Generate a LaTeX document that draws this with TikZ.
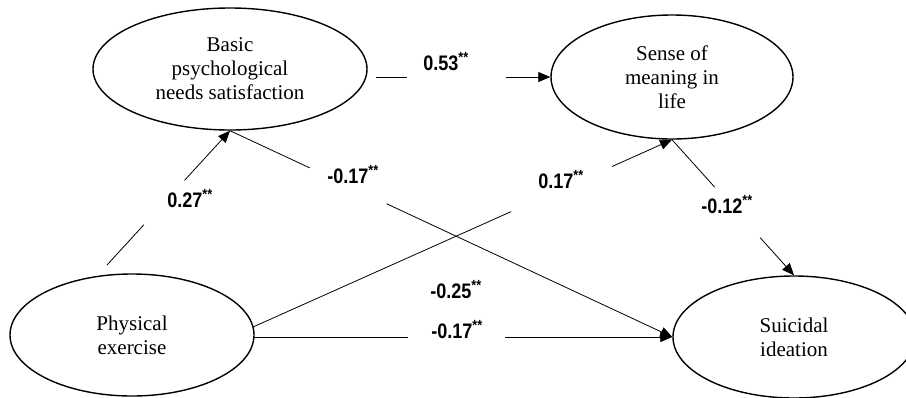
\documentclass[tikz,border=0pt]{standalone}
\usepackage{fontspec}
\setmainfont{Liberation Serif}
\newfontfamily\lblfont[FakeStretch=0.86]{Liberation Sans}
\usetikzlibrary{shapes.geometric,arrows.meta,calc}
\begin{document}
\begin{tikzpicture}[x=1pt,y=-1pt,
  latent/.style={ellipse, draw, line width=1.4pt, inner sep=0pt, align=center,
    font=\fontsize{21}{24}\selectfont},
  conn/.style={line width=0.8pt},
  arr/.style={conn, -{Triangle[length=12pt,width=10pt]}},
  coef/.style={font=\lblfont\bfseries\fontsize{21}{23}\selectfont, inner sep=0pt, anchor=base}]
\useasboundingbox (0,0) rectangle (906,397);
% latent variables
\node[latent, minimum width=274pt, minimum height=122pt] (B) at (230,69) {Basic\\psychological\\needs satisfaction};
\node[latent, minimum width=242pt, minimum height=124pt] (S) at (672,77) {Sense of\\meaning in\\life};
\node[latent, minimum width=244pt, minimum height=122pt] (P) at (132,335) {Physical\\exercise};
\node[latent, minimum width=242pt, minimum height=122pt] (Su) at (794,337) {Suicidal\\ideation};
% free start points
\coordinate (pB) at (107,265);
\coordinate (bS) at (376,77);
\coordinate (pS) at (253,327);
\coordinate (pSu) at (253,337);
% Physical -> Basic
\draw[conn] (pB) -- ($(pB)!0.30!(B.south)$);
\draw[arr] ($(pB)!0.63!(B.south)$) -- (B.south);
% Basic -> Sense
\draw[conn] (bS) -- ($(bS)!0.177!(S.west)$);
\draw[arr] ($(bS)!0.743!(S.west)$) -- (S.west);
% Basic -> Suicidal
\draw[conn] (B.south) -- ($(B.south)!0.18!(Su.west)$);
\draw[arr] ($(B.south)!0.354!(Su.west)$) -- (Su.west);
% Physical -> Sense
\draw[conn] (pS) -- ($(pS)!0.616!(S.south)$);
\draw[arr] ($(pS)!0.857!(S.south)$) -- (S.south);
% Sense -> Suicidal
\draw[conn] (S.south) -- ($(S.south)!0.35!(Su.north)$);
\draw[arr] ($(S.south)!0.723!(Su.north)$) -- (Su.north);
% Physical -> Suicidal
\draw[conn] (pSu) -- ($(pSu)!0.369!(Su.west)$);
\draw[arr] ($(pSu)!0.602!(Su.west)$) -- (Su.west);
% coefficients
\node[coef] (c1) at (446,70) {0.53\textsuperscript{**}};
\node[coef] (c2) at (190,207) {0.27\textsuperscript{**}};
\node[coef] (c3) at (353,183) {-0.17\textsuperscript{**}};
\node[coef] (c4) at (561,188) {0.17\textsuperscript{**}};
\node[coef] (c5) at (727,213) {-0.12\textsuperscript{**}};
\node[coef] (c6) at (456,298) {-0.25\textsuperscript{**}};
\node[coef] (c7) at (457,338) {-0.17\textsuperscript{**}};
\end{tikzpicture}
\end{document}
